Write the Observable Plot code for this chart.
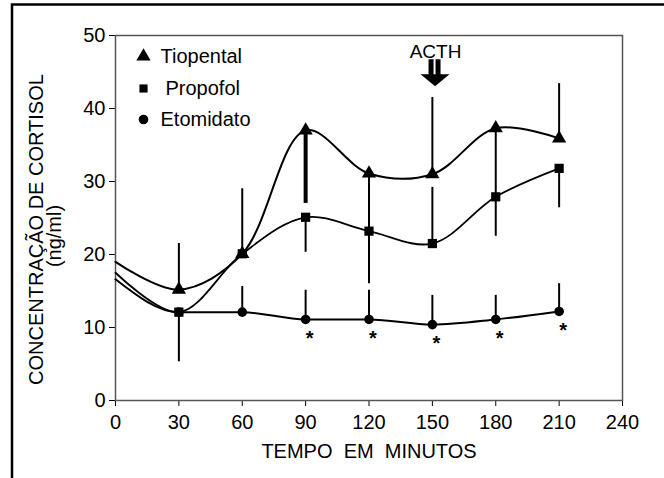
<!DOCTYPE html>
<html>
<head>
<meta charset="utf-8">
<script src="https://cdn.jsdelivr.net/npm/d3@7"></script>
<script src="https://cdn.jsdelivr.net/npm/@observablehq/plot@0.6"></script>
<style>
  html, body { margin: 0; padding: 0; background: #fff; }
  #wrap { position: relative; width: 664px; height: 478px; overflow: hidden; }
</style>
</head>
<body>
<div id="wrap"></div>
<script>
// ---- data ----
const times        = [0, 30, 60, 90, 120, 150, 180, 210];
const tiopental    = [19.0, 15.2, 20.1, 37.0, 31.1, 31.0, 37.3, 35.9];
const propofol     = [17.5, 12.1, 20.1, 25.1, 23.2, 21.5, 27.9, 31.8];
const etomidato    = [16.6, 12.1, 12.1, 11.1, 11.1, 10.4, 11.1, 12.2];
// error-bar end points (null = no bar drawn)
const tiopentalErr = [null, 21.5, 29.0, 27.0, 23.2, 41.5, 27.9, 43.4];
const propofolErr  = [null, 5.3, null, 20.3, 16.0, 29.2, 22.5, 26.4];
const etomidatoErr = [null, null, 15.6, 15.1, 15.1, 14.4, 14.4, 16.0];
const significantTimes = [90, 120, 150, 180, 210];
const seriesNames  = ["Tiopental", "Propofol", "Etomidato"];
const xTicks = [0, 30, 60, 90, 120, 150, 180, 210, 240];
const yTicks = [0, 10, 20, 30, 40, 50];
const acthLabel = "ACTH";
const acthTime = 151.5;
const xTitle = "TEMPO\u00a0 EM\u00a0 MINUTOS";
const yTitle = "CONCENTRAÇÃO DE CORTISOL";
const yUnit = "(ng/ml)";

// ---- build tables ----
const symbols = {Tiopental: "triangle", Propofol: "square", Etomidato: "circle"};
const values = {Tiopental: tiopental, Propofol: propofol, Etomidato: etomidato};
const errs = {Tiopental: tiopentalErr, Propofol: propofolErr, Etomidato: etomidatoErr};
const rows = [];
const bars = [];
for (const s of seriesNames) {
  times.forEach((t, i) => {
    rows.push({series: s, t, v: values[s][i], marker: t > 0});
    if (errs[s][i] != null) bars.push({series: s, t, v: values[s][i], e: errs[s][i]});
  });
}
const stars = times.map((t, i) => ({t, v: etomidato[i]})).filter(d => significantTimes.includes(d.t));

// custom double arrow symbol (drawn around its anchor point)
const doubleArrow = {
  draw(ctx) {
    ctx.rect(-7, -15, 5, 15);
    ctx.rect(0, -15, 5, 15);
    ctx.moveTo(-15, 0); ctx.lineTo(14, 0); ctx.lineTo(-0.5, 12); ctx.closePath();
  }
};

const font = "'Liberation Sans', Arial, Helvetica, sans-serif";
const marks = [
  Plot.frame({stroke: "#555", strokeWidth: 1.5}),
  // error bars
  Plot.ruleX(bars, {x: "t", y1: "v", y2: "e", stroke: "#000",
    strokeWidth: d => (d.series === "Tiopental" && d.t === 90) ? 4 : 2}),
  // curves
  Plot.line(rows.filter(d => d.series === "Tiopental"), {x: "t", y: "v", curve: "catmull-rom", stroke: "#000", strokeWidth: 2}),
  Plot.line(rows.filter(d => d.series === "Propofol"), {x: "t", y: "v", curve: "catmull-rom", stroke: "#000", strokeWidth: 1.8}),
  Plot.line(rows.filter(d => d.series === "Etomidato"), {x: "t", y: "v", curve: "monotone-x", stroke: "#000", strokeWidth: 2}),
  // markers
  ...seriesNames.map(s => Plot.dot(rows.filter(d => d.series === s && d.marker), {
    x: "t", y: "v", symbol: () => symbols[s], fill: "#000", stroke: "none",
    r: s === "Tiopental" ? 5.3 : s === "Propofol" ? 5.2 : 4.8
  })),
  // asterisks
  Plot.text(stars, {x: "t", y: "v", text: () => "*", dx: 4, dy: 19, fontSize: 20, fontWeight: "bold", fill: "#000"}),
  // ACTH annotation
  Plot.text([acthLabel], {x: () => acthTime, y: () => 47.8, fontSize: 19, fill: "#000"}),
  Plot.dot([acthLabel], {x: () => acthTime, y: () => 44.7, symbol: doubleArrow, fill: "#000", stroke: "none", r: 5}),
  // legend
  ...seriesNames.map((s, i) => Plot.dot([s], {frameAnchor: "top-left", dx: 28, dy: [21, 53, 84][i],
    symbol: symbols[s], fill: "#000", stroke: "none", r: [5.3, 4.6, 4.8][i]})),
  ...seriesNames.map((s, i) => Plot.text([s], {frameAnchor: "top-left", dx: [45, 50, 45][i], dy: [21, 53, 84][i],
    textAnchor: "start", lineAnchor: "middle", fontSize: 20, fill: "#000"})),
  // axis titles
  Plot.text([xTitle], {frameAnchor: "bottom", dy: 57, textAnchor: "middle", fontSize: 20, fill: "#000"}),
  Plot.text([yTitle], {frameAnchor: "left", dx: -79, dy: 11.5, rotate: -90, textAnchor: "middle", lineAnchor: "middle", fontSize: 20, fill: "#000"}),
  Plot.text([yUnit], {frameAnchor: "left", dx: -61, dy: 18, rotate: -90, textAnchor: "middle", lineAnchor: "middle", fontSize: 20, fill: "#000"})
];

const chart = Plot.plot({
  width: 664,
  height: 478,
  marginLeft: 115,
  marginRight: 42,
  marginTop: 35,
  marginBottom: 78,
  style: {fontFamily: font, fontSize: "20px", color: "#000", background: "#fff"},
  x: {domain: [0, 240], ticks: xTicks, tickSize: 6, tickPadding: 8, label: null},
  y: {domain: [0, 50], ticks: yTicks, tickSize: 6, tickPadding: 4, label: null},
  marks
});
// outer page border of the scanned figure (left and top edges)
const svg = d3.select(chart);
svg.append("path")
  .attr("d", "M12,478V4.5H664")
  .attr("fill", "none")
  .attr("stroke", "#000")
  .attr("stroke-width", 2.5);
document.getElementById("wrap").appendChild(chart);
</script>
</body>
</html>
